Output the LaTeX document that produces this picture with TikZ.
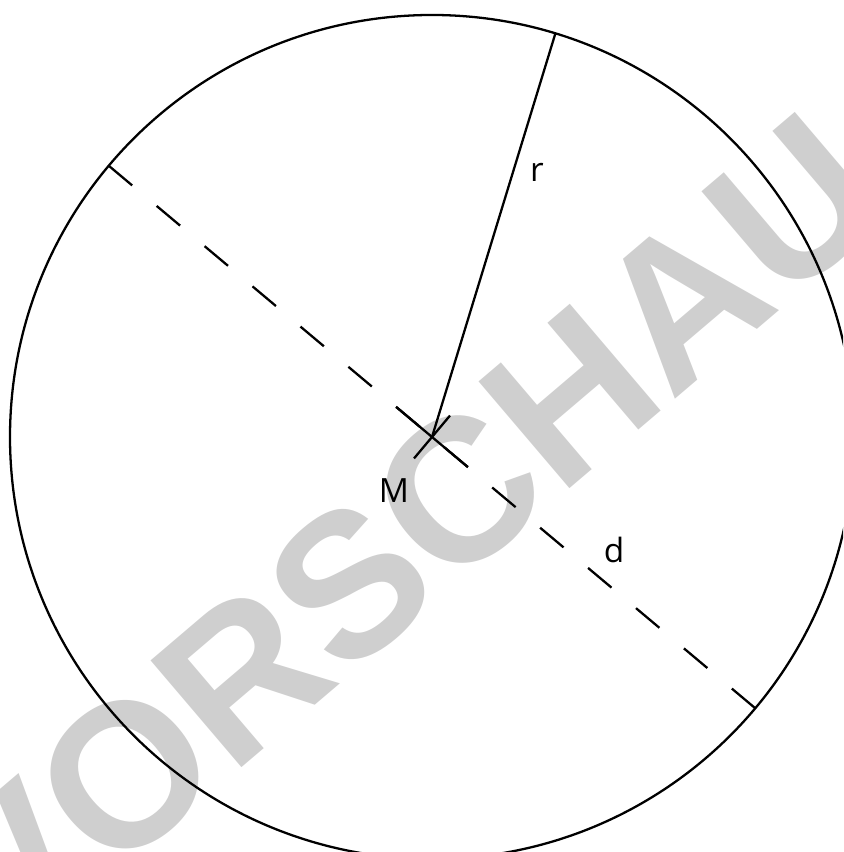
\documentclass[tikz,border=0pt]{standalone}
\usepackage{fontspec}
\setmainfont{Open Sans}
\newfontfamily\wmfont{Liberation Sans}
\definecolor{wmgrau}{HTML}{CFCFCF}
\tikzset{
  linie/.style={line width=0.65pt,black},
  strich/.style={linie,dash pattern=on 0.3057cm off 0.32cm},
  beschr/.style={inner sep=0pt,font=\fontsize{9.5}{11}\selectfont},
}
\begin{document}
\begin{tikzpicture}
            \useasboundingbox (0,0) rectangle (8.43,8.52);
            \clip (0,0) rectangle (8.43,8.52);
            % Wasserzeichen
            \node[rotate=40.4,text=wmgrau,inner sep=0pt,font=\wmfont\bfseries\fontsize{58}{62}\selectfont] (wz) at (4.06,3.16) {VORSCHAU};
            % Kreis
            \coordinate (M) at (4.32,4.15);
            \draw[linie] (M) circle (4.22);
            % Radius
            \path (M) ++(73:4.22) coordinate (R);
            \draw[linie] (M) -- (R);
            % Durchmesser
            \path (M) ++(140:4.22) coordinate (D1);
            \path (M) ++(-40:4.22) coordinate (D2);
            \draw[strich] (D1) -- (D2);
            % Mittelpunkt
            \draw[linie] ([shift={(140:0.47)}]M) -- ([shift={(-40:0.47)}]M);
            \draw[linie] ([shift={(50:0.28)}]M) -- ([shift={(230:0.28)}]M);
            % Beschriftung
            \node[beschr] (lr) at (5.37,6.80) {r};
            \node[beschr] (lM) at (3.94,3.61) {M};
            \node[beschr] (ld) at (6.14,3.02) {d};
        \end{tikzpicture}
\end{document}
